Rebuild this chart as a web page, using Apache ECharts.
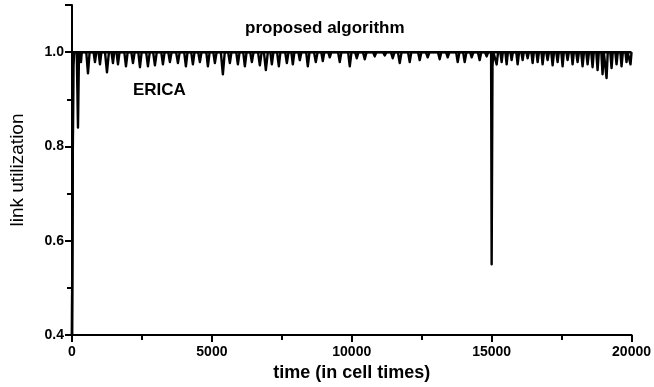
<!DOCTYPE html>
<html>
<head>
<meta charset="utf-8">
<script src="https://cdn.jsdelivr.net/npm/echarts@6/dist/echarts.min.js"></script>
<style>
  html, body { margin: 0; padding: 0; background: #fff; }
  #chart { width: 654px; height: 387px; }
</style>
</head>
<body>
<div id="chart"></div>
<script>
// link utilization over time
const xTicks = [0, 5000, 10000, 15000, 20000];
const yTicks = [0.4, 0.6, 0.8, 1.0];

// proposed algorithm: ramps up and sits at full utilization
const proposed = [
  [0, 0.40], [40, 1.0], [15000, 1.0], [15010, 0.98], [15040, 1.0], [20000, 1.0]
];

// ERICA: [time, utilization], dips below 1.0
const erica = [
  [0, 0.40], [25, 0.75], [50, 0.97], [80, 1.0],
  [170, 1.0], [214, 0.84], [250, 1.0],
  [290, 1.0], [321, 0.979], [350, 1.0],
  [510, 1.0], [571, 0.955], [630, 1.0],
  [770, 1.0], [821, 0.979], [870, 1.0],
  [950, 1.0], [1000, 0.974], [1050, 1.0],
  [1180, 1.0], [1250, 0.957], [1320, 1.0],
  [1410, 1.0], [1464, 0.977], [1510, 1.0],
  [1590, 1.0], [1643, 0.974], [1700, 1.0],
  [1870, 1.0], [1929, 0.970], [1990, 1.0],
  [2120, 1.0], [2179, 0.977], [2240, 1.0],
  [2370, 1.0], [2429, 0.968], [2490, 1.0],
  [2650, 1.0], [2714, 0.970], [2780, 1.0],
  [2900, 1.0], [2964, 0.972], [3030, 1.0],
  [3190, 1.0], [3250, 0.974], [3310, 1.0],
  [3440, 1.0], [3500, 0.979], [3560, 1.0],
  [3720, 1.0], [3786, 0.977], [3850, 1.0],
  [4010, 1.0], [4071, 0.970], [4130, 1.0],
  [4260, 1.0], [4321, 0.974], [4380, 1.0],
  [4510, 1.0], [4571, 0.979], [4630, 1.0],
  [4800, 1.0], [4857, 0.970], [4920, 1.0],
  [5050, 1.0], [5107, 0.977], [5170, 1.0],
  [5320, 1.0], [5393, 0.953], [5460, 1.0],
  [5580, 1.0], [5643, 0.977], [5700, 1.0],
  [5870, 1.0], [5929, 0.974], [5990, 1.0],
  [6120, 1.0], [6179, 0.970], [6240, 1.0],
  [6370, 1.0], [6429, 0.979], [6490, 1.0],
  [6650, 1.0], [6714, 0.972], [6780, 1.0],
  [6860, 1.0], [6929, 0.962], [7000, 1.0],
  [7090, 1.0], [7143, 0.974], [7200, 1.0],
  [7330, 1.0], [7393, 0.970], [7450, 1.0],
  [7620, 1.0], [7679, 0.977], [7740, 1.0],
  [7840, 1.0], [7893, 0.974], [7950, 1.0],
  [8090, 1.0], [8143, 0.983], [8200, 1.0],
  [8370, 1.0], [8429, 0.970], [8490, 1.0],
  [8650, 1.0], [8714, 0.979], [8780, 1.0],
  [8910, 1.0], [8964, 0.981], [9020, 1.0],
  [9160, 1.0], [9214, 0.989], [9270, 1.0],
  [9510, 1.0], [9571, 0.979], [9630, 1.0],
  [9870, 1.0], [9929, 0.970], [9990, 1.0],
  [10120, 1.0], [10179, 0.987], [10240, 1.0],
  [10400, 1.0], [10464, 0.985], [10530, 1.0],
  [10760, 1.0], [10821, 0.991], [10880, 1.0],
  [11120, 1.0], [11179, 0.993], [11240, 1.0],
  [11400, 1.0], [11464, 0.987], [11530, 1.0],
  [11650, 1.0], [11714, 0.977], [11780, 1.0],
  [12010, 1.0], [12071, 0.979], [12130, 1.0],
  [12370, 1.0], [12429, 0.983], [12490, 1.0],
  [12650, 1.0], [12714, 0.989], [12780, 1.0],
  [13080, 1.0], [13143, 0.985], [13200, 1.0],
  [13370, 1.0], [13429, 0.989], [13490, 1.0],
  [13730, 1.0], [13786, 0.979], [13850, 1.0],
  [13980, 1.0], [14036, 0.979], [14100, 1.0],
  [14230, 1.0], [14286, 0.989], [14350, 1.0],
  [14510, 1.0], [14571, 0.983], [14630, 1.0],
  [14760, 1.0], [14821, 0.991], [14880, 1.0],
  [14980, 1.0], [15000, 0.55], [15030, 0.97], [15060, 1.0],
  [15130, 1.0], [15179, 0.974], [15230, 1.0],
  [15310, 1.0], [15357, 0.979], [15400, 1.0],
  [15490, 1.0], [15536, 0.974], [15580, 1.0],
  [15670, 1.0], [15714, 0.983], [15760, 1.0],
  [15880, 1.0], [15929, 0.974], [15980, 1.0],
  [16060, 1.0], [16107, 0.983], [16150, 1.0],
  [16240, 1.0], [16286, 0.987], [16330, 1.0],
  [16420, 1.0], [16464, 0.977], [16510, 1.0],
  [16600, 1.0], [16643, 0.979], [16690, 1.0],
  [16780, 1.0], [16821, 0.974], [16870, 1.0],
  [16950, 1.0], [17000, 0.983], [17050, 1.0],
  [17130, 1.0], [17179, 0.972], [17230, 1.0],
  [17310, 1.0], [17357, 0.979], [17400, 1.0],
  [17490, 1.0], [17536, 0.970], [17580, 1.0],
  [17670, 1.0], [17714, 0.983], [17760, 1.0],
  [17850, 1.0], [17893, 0.974], [17940, 1.0],
  [18020, 1.0], [18071, 0.979], [18120, 1.0],
  [18200, 1.0], [18250, 0.970], [18300, 1.0],
  [18380, 1.0], [18429, 0.974], [18480, 1.0],
  [18560, 1.0], [18607, 0.968], [18650, 1.0],
  [18740, 1.0], [18786, 0.962], [18830, 1.0],
  [18920, 1.0], [18964, 0.953], [19010, 1.0],
  [19060, 1.0], [19107, 0.945], [19150, 1.0],
  [19240, 1.0], [19286, 0.966], [19330, 1.0],
  [19420, 1.0], [19464, 0.974], [19510, 1.0],
  [19600, 1.0], [19643, 0.970], [19690, 1.0],
  [19780, 1.0], [19821, 0.979], [19860, 1.0],
  [19920, 1.0], [19964, 0.974], [20000, 1.0]
];

const font = 'Liberation Sans';
const chart = echarts.init(document.getElementById('chart'));

const option = {
  animation: false,
  backgroundColor: '#fff',
  grid: { left: 72, right: 21, top: 5, bottom: 52 },
  xAxis: {
    type: 'value',
    min: xTicks[0],
    max: xTicks[xTicks.length - 1],
    interval: 5000,
    name: 'time (in cell times)',
    nameLocation: 'middle',
    nameGap: 27,
    nameTextStyle: { fontFamily: font, fontWeight: 'bold', fontSize: 18, color: '#000' },
    axisLine: { lineStyle: { color: '#000', width: 2 } },
    axisTick: { length: 7, lineStyle: { color: '#000', width: 2 } },
    minorTick: { show: true, splitNumber: 2, length: 5, lineStyle: { color: '#000', width: 2 } },
    splitLine: { show: false },
    axisLabel: {
      margin: 10, fontFamily: font, fontWeight: 'bold', fontSize: 14, color: '#000',
      formatter: v => String(v)
    }
  },
  yAxis: {
    type: 'value',
    min: yTicks[0],
    max: 1.1,
    interval: 0.2,
    name: 'link utilization',
    nameLocation: 'middle',
    nameGap: 45,
    nameTextStyle: { fontFamily: font, fontSize: 19, color: '#000' },
    axisLine: { lineStyle: { color: '#000', width: 2 } },
    axisTick: { length: 7, lineStyle: { color: '#000', width: 2 } },
    minorTick: { show: true, splitNumber: 2, length: 5, lineStyle: { color: '#000', width: 2 } },
    splitLine: { show: false },
    axisLabel: {
      margin: 8,
      fontFamily: font, fontWeight: 'bold', fontSize: 14, color: '#000',
      formatter: v => yTicks.some(t => Math.abs(t - v) < 1e-6) ? v.toFixed(1) : ''
    }
  },
  graphic: [
    { type: 'text', left: 245, top: 20, style: { text: 'proposed algorithm', fontFamily: font, fontWeight: 'bold', fontSize: 17, fill: '#000' } },
    { type: 'text', left: 133, top: 82, style: { text: 'ERICA', fontFamily: font, fontWeight: 'bold', fontSize: 17, fill: '#000' } }
  ],
  series: [
    {
      name: 'proposed algorithm',
      type: 'line',
      data: proposed,
      showSymbol: false,
      lineStyle: { color: '#000', width: 2.5 }
    },
    {
      name: 'ERICA',
      type: 'line',
      data: erica,
      showSymbol: false,
      lineStyle: { color: '#000', width: 2.4, join: 'round' }
    }
  ]
};

chart.setOption(option);
</script>
</body>
</html>
